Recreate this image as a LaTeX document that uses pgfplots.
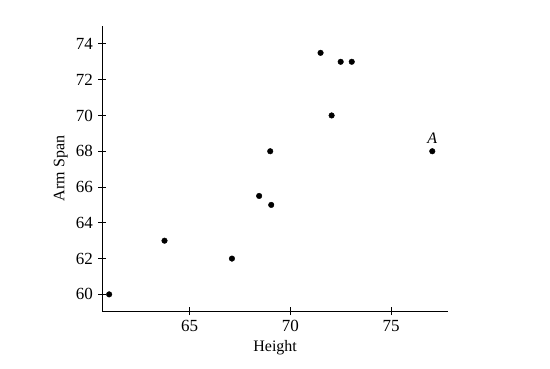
\documentclass[border=0pt]{standalone}
\usepackage{pgfplots}
\pgfplotsset{compat=1.18}
\usepackage{fontspec}
\setmainfont{Liberation Serif}
\begin{document}
\fontsize{16}{19}\selectfont
\begin{tikzpicture}[x=1pt,y=1pt]
\path[use as bounding box] (0,0) rectangle (550,368);
\begin{axis}[
  at={(102.3pt,57pt)}, anchor=south west,
  scale only axis, width=345.7pt, height=285pt,
  xmin=60.66, xmax=77.83, ymin=59.07, ymax=75.0,
  axis lines=left, axis line style={-, line width=1pt},
  xtick={65,70,75}, ytick={60,62,...,74},
  tick style={black, line width=0.8pt},
  major tick length=8pt,
  tick align=center,
  /pgf/number format/assume math mode=true,
  ticklabel style={font=\fontsize{17}{20}\selectfont},
  xlabel={Height}, ylabel={Arm Span},
  label style={font=\fontsize{16}{19}\selectfont},
  xlabel style={yshift=2pt},
  ylabel style={yshift=-3pt},
  clip=false,
]
\addplot[only marks, mark=*, mark size=2.8pt, black] coordinates {
(61,60) (63.75,63) (67.1,62) (68.45,65.5) (69.05,65) (69,68)
(71.5,73.5) (72.05,70) (72.5,73) (73.05,73) (77.05,68)
};
\node[above, font=\itshape\fontsize{16}{19}\selectfont, inner sep=2pt] at (axis cs:77.05,68.3) {A};
\end{axis}
\end{tikzpicture}
\end{document}
